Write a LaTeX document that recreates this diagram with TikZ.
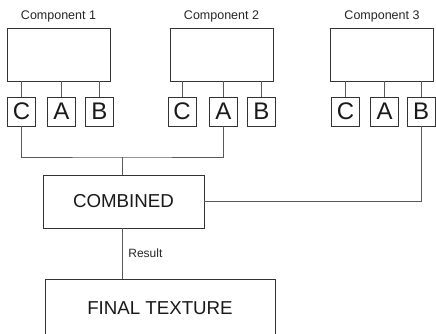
\documentclass[tikz,border=0pt]{standalone}
\usepackage{fontspec}
\setmainfont{Liberation Sans}
\usetikzlibrary{positioning}

\begin{document}
\begin{tikzpicture}[x=1pt, y=-1pt,
    comp/.style={draw=black!80, line width=0.8pt, minimum width=103pt,
                 minimum height=53pt, inner sep=0pt},
    title/.style={font=\fontsize{12.5}{14}\selectfont, text=black!85, inner sep=0pt},
    port/.style={draw=black!80, line width=0.8pt, minimum width=28pt, minimum height=29pt,
                 inner sep=0pt, font=\fontsize{24}{26}\selectfont, text=black!90},
    stage/.style={draw=black!80, line width=0.8pt, minimum height=53pt, inner sep=0pt,
                  font=\fontsize{18.7}{20}\selectfont, text=black!90},
    wire/.style={draw=black!65, line width=0.8pt}
  ]
    \clip (0,0) rectangle (436,334);

    %% ── Components ──
    \node[comp] (comp1) at (58.5,54.5)  {};
    \node[comp] (comp2) at (221.5,54.5) {};
    \node[comp] (comp3) at (382,54.5)   {};
    \node[title, above=5.5pt of comp1] (title1) {Component 1};
    \node[title, above=5.5pt of comp2] (title2) {Component 2};
    \node[title, above=5.5pt of comp3] (title3) {Component 3};

    %% ── Ports ──
    \node[port] (c1) at (21.5,111.5)  {C};
    \node[port] (a1) at (61.5,111.5)  {A};
    \node[port] (b1) at (99.5,111.5)  {B};
    \node[port] (c2) at (182,111.5)   {C};
    \node[port] (a2) at (223.5,111.5) {A};
    \node[port] (b2) at (261.5,111.5) {B};
    \node[port] (c3) at (345.5,111.5) {C};
    \node[port] (a3) at (384.5,111.5) {A};
    \node[port] (b3) at (421,111.5)   {B};

    \draw[wire] (c1.north) -- (c1.north |- comp1.south);
    \draw[wire] (a1.north) -- (a1.north |- comp1.south);
    \draw[wire] (b1.north) -- (b1.north |- comp1.south);
    \draw[wire] (c2.north) -- (c2.north |- comp2.south);
    \draw[wire] (a2.north) -- (a2.north |- comp2.south);
    \draw[wire] (b2.north) -- (b2.north |- comp2.south);
    \draw[wire] (c3.north) -- (c3.north |- comp3.south);
    \draw[wire] (a3.north) -- (a3.north |- comp3.south);
    \draw[wire] (b3.north) -- (b3.north |- comp3.south);

    %% ── Stages ──
    \node[stage, minimum width=161pt] (comb)  at (123.5,201.5) {COMBINED};
    \node[stage, minimum width=230pt, minimum height=58pt] (final) at (160,308) {FINAL TEXTURE};
    \coordinate (join) at (122,157);

    \draw[wire] (c1.south) |- (join) -| (a2.south);
    \draw[wire] (join) -- (join |- comb.north);
    \draw[wire] (b3.south) |- (comb.east);
    \draw[wire] (join |- comb.south) -- (join |- final.north)
      node[midway, right=6pt, title, font=\fontsize{12}{14}\selectfont] (res) {Result};
  \end{tikzpicture}
\end{document}
